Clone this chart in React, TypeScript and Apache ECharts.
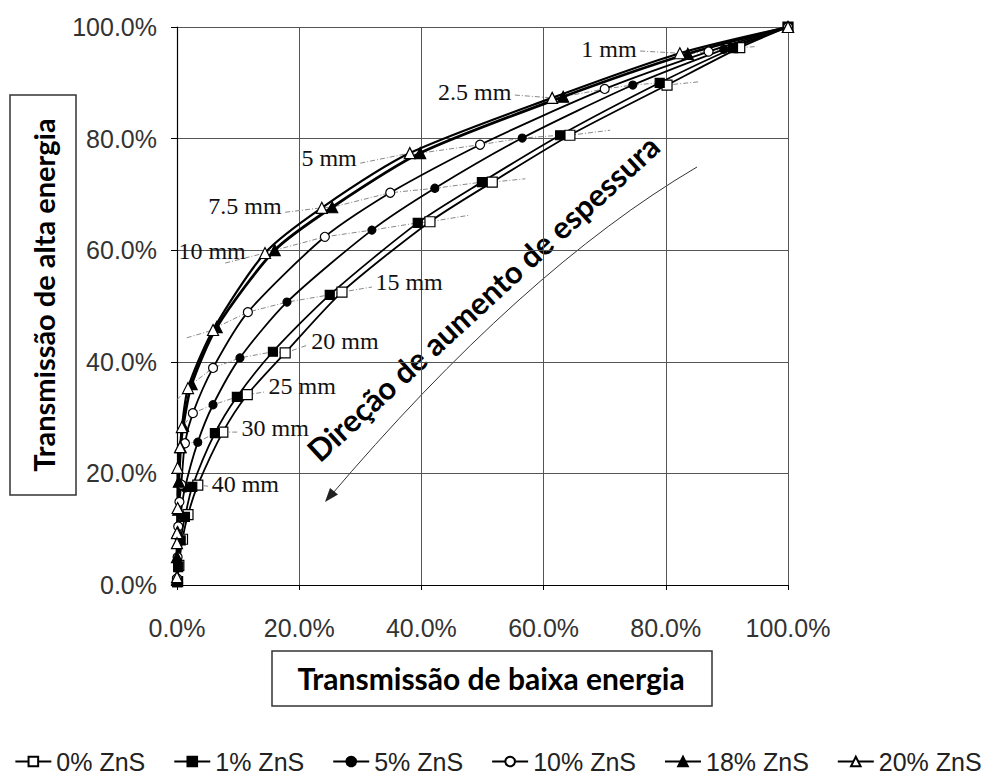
import React, { useEffect, useRef } from 'react';
import * as echarts from 'echarts';

// Series (thickness order: 0, 1, 2.5, 5, 7.5, 10, 15, 20, 25, 30, 40 mm, then thicker samples)
const seriesNames = ['0% ZnS', '1% ZnS', '5% ZnS', '10% ZnS', '18% ZnS', '20% ZnS'];

const low0 = [100, 92.1, 80.2, 64.3, 51.6, 41.4, 27.0, 17.7, 11.5, 7.5, 3.4, 1.8, 0.9, 0.3, 0.1];
const high0 = [100, 96.3, 89.6, 80.6, 72.2, 65.1, 52.5, 41.6, 34.1, 27.4, 17.9, 12.6, 8.2, 3.5, 0.6];

const low1 = [100, 91.0, 79.0, 62.7, 49.9, 39.4, 25.0, 15.7, 9.8, 6.2, 2.5, 1.3, 0.6, 0.2, 0.0];
const high1 = [100, 96.2, 90.0, 80.6, 72.2, 64.9, 52.0, 41.8, 33.7, 27.2, 17.6, 12.2, 8.0, 3.2, 0.5];

const low5 = [100, 89.5, 74.6, 56.5, 42.2, 31.9, 18.0, 10.3, 5.9, 3.4, 1.3, 0.6, 0.3, 0.1, 0.0];
const high5 = [100, 96.0, 89.6, 80.1, 71.1, 63.6, 50.7, 40.7, 32.3, 25.6, 17.4, 12.6, 8.5, 3.5, 0.8];

const low10 = [100, 87.0, 70.0, 49.6, 34.9, 24.2, 11.6, 5.9, 2.6, 1.3, 0.7, 0.4, 0.2, 0.1, 0.0];
const high10 = [100, 95.6, 88.9, 78.9, 70.3, 62.4, 48.9, 38.9, 30.8, 25.4, 18.0, 14.9, 10.5, 5.0, 1.2];

const low18 = [100, 83.6, 63.2, 39.8, 25.4, 16.0, 6.5, 2.4, 1.0, 0.6, 0.3, 0.2, 0.1, 0.0, 0.0];
const high18 = [100, 95.2, 87.5, 77.4, 67.7, 60.0, 46.2, 36.0, 28.5, 24.7, 18.5, 13.5, 9.5, 5.0, 1.0];

const low20 = [100, 82.3, 61.4, 38.1, 23.7, 14.4, 5.9, 1.8, 0.8, 0.5, 0.1, 0.1, 0.0, 0.0, 0.0];
const high20 = [100, 95.3, 87.3, 77.4, 67.6, 59.5, 45.7, 35.3, 28.3, 24.7, 21.0, 13.8, 9.3, 7.5, 1.4];

// Iso-thickness annotation lines
const thicknessLabels = ['1 mm', '2.5 mm', '5 mm', '7.5 mm', '10 mm', '15 mm', '20 mm', '25 mm', '30 mm', '40 mm'];
const thicknessIndex = [1, 2, 3, 4, 5, 6, 7, 8, 9, 10];
const isoLeftEnd = [[75.8, 95.7], [55.3, 87.8], [30.0, 75.6], [17.7, 66.8], [7.9, 57.7], [1.6, 44.3], [0, 33.2], [0, 27.8], [0, 24.2], [0, 16.0]];
const isoRightEnd = [[94.9, 96.5], [85.6, 90.2], [70.9, 81.5], [57.0, 72.8], [48.0, 66.3], [31.9, 53.4], [21.4, 43.0], [14.4, 34.6], [10.0, 27.4], [5.1, 17.7]];

const yTicks = [0, 20, 40, 60, 80, 100];

// layout (not data)
const labelSide = ['left', 'left', 'left', 'left', 'left', 'right', 'right', 'right', 'right', 'right'];
const labelOffset = [[0, -2], [0, -3], [0, -5], [0, -6], [24, -12], [0, -5], [0, -4], [0, -6], [0, -4], [0, -2]];

const lows = [low0, low1, low5, low10, low18, low20];
const highs = [high0, high1, high5, high10, high18, high20];
const symbols = ['rect', 'rect', 'circle', 'circle', 'triangle', 'triangle'];
const filled = [false, true, true, false, true, false];
const symSizes = [10, 9, 8, 9, 11, 11];
const lineWidths = [1.8, 1.8, 1.8, 1.8, 2.8, 2.2];

export default function App() {
  const ref = useRef<HTMLDivElement>(null);
  useEffect(() => {
    document.body.style.margin = '0';
    const chart = echarts.init(ref.current!, null, { renderer: 'svg' });

    const isoSeries = thicknessLabels.map((lab, k) => {
      const idx = thicknessIndex[k];
      const pts = lows.map((l, s) => [l[idx], highs[s][idx]]).sort((a, b) => a[0] - b[0]);
      const left = isoLeftEnd[k];
      const right = isoRightEnd[k];
      const side = labelSide[k];
      const labelItem = (p: number[]) => ({
        value: p,
        label: {
          show: true,
          formatter: lab,
          position: side,
          distance: 3,
          offset: labelOffset[k],
          fontFamily: 'Liberation Serif',
          fontSize: 24,
          color: '#111',
        },
      });
      const data: any[] = side === 'left'
        ? [labelItem(left), ...pts, right]
        : [left, ...pts, labelItem(right)];
      return {
        type: 'line',
        name: 'iso' + k,
        data,
        symbol: 'circle',
        symbolSize: 1,
        showSymbol: true,
        showAllSymbol: true,
        itemStyle: { color: 'rgba(0,0,0,0)', borderWidth: 0 },
        lineStyle: { color: '#888', width: 1, type: [5, 2, 1, 2] },
        z: 1,
        silent: true,
        clip: false,
        label: { show: false },
      };
    });

    const dataSeries = seriesNames.map((name, s) => ({
      type: 'line',
      name,
      data: lows[s].map((v, i) => [v, highs[s][i]]),
      symbol: symbols[s],
      symbolSize: symSizes[s],
      showAllSymbol: true,
      smooth: 0.25,
      clip: false,
      lineStyle: { color: '#000', width: lineWidths[s] },
      itemStyle: { color: filled[s] ? '#000' : '#fff', borderColor: '#000', borderWidth: 1.2 },
      z: 3,
    }));

    chart.setOption({
      animation: false,
      backgroundColor: '#fff',
      grid: { left: 177, top: 27, right: 208, bottom: 199, containLabel: false },
      xAxis: {
        type: 'value', min: 0, max: 100, interval: 20,
        axisLine: { show: true, lineStyle: { color: '#000', width: 1.2 } },
        axisTick: { show: true, length: 5, lineStyle: { color: '#000' } },
        splitLine: { show: true, lineStyle: { color: '#555', width: 1 } },
        axisLabel: {
          margin: 30, fontFamily: 'Liberation Sans', fontSize: 25, color: '#333',
          formatter: (v: number) => v.toFixed(1) + '%',
        },
      },
      yAxis: {
        type: 'value', min: yTicks[0], max: yTicks[yTicks.length - 1], interval: 20,
        axisLine: { show: true, lineStyle: { color: '#000', width: 1.2 } },
        axisTick: { show: true, length: 6, lineStyle: { color: '#000' } },
        splitLine: { show: true, lineStyle: { color: '#555', width: 1 } },
        axisLabel: {
          margin: 20, fontFamily: 'Liberation Sans', fontSize: 25, color: '#333',
          formatter: (v: number) => v.toFixed(1) + '%',
        },
      },
      legend: {
        data: seriesNames,
        bottom: 5,
        left: 'center',
        itemWidth: 36,
        itemHeight: 12,
        itemGap: 28,
        textStyle: { fontFamily: 'Liberation Sans', fontSize: 25, color: '#222' },
      },
      graphic: [
        {
          type: 'group',
          children: [
            { type: 'rect', shape: { x: 10, y: 95, width: 66, height: 400 }, style: { fill: '#fff', stroke: '#333', lineWidth: 1.5 } },
            {
              type: 'text', x: 43, y: 295, rotation: Math.PI / 2,
              style: { text: 'Transmissão de alta energia', font: 'bold 29px Lato', fill: '#000', align: 'center', verticalAlign: 'middle' },
            },
            { type: 'rect', shape: { x: 272, y: 651, width: 440, height: 55 }, style: { fill: '#fff', stroke: '#333', lineWidth: 1.5 } },
            {
              type: 'text', x: 491, y: 678,
              style: { text: 'Transmissão de baixa energia', font: 'bold 30px Lato', fill: '#000', align: 'center', verticalAlign: 'middle' },
            },
            {
              type: 'text', x: 483, y: 298, rotation: 42.5 * Math.PI / 180,
              style: { text: 'Direção de aumento de espessura', font: 'bold 31px Lato', fill: '#000', align: 'center', verticalAlign: 'middle' },
            },
            {
              type: 'bezierCurve',
              shape: { x1: 697, y1: 167, x2: 327, y2: 500, cpx1: 522, cpy1: 270 },
              style: { stroke: '#333', lineWidth: 1, fill: 'none' },
            },
            {
              type: 'polygon',
              shape: { points: [[325, 502], [338, 494.5], [330, 488]] },
              style: { fill: '#222' },
            },
          ],
        },
      ],
      series: [...isoSeries, ...dataSeries],
    });
    return () => chart.dispose();
  }, []);
  return <div ref={ref} style={{ width: 996, height: 784 }} />;
}
